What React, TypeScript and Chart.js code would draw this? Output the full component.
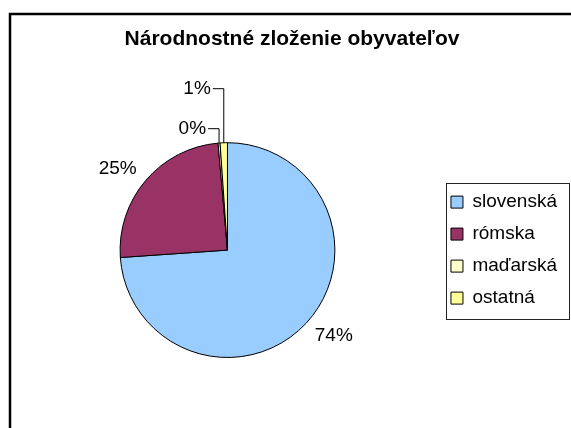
import React, { useEffect, useRef } from "react";
import { Chart, registerables } from "chart.js";

Chart.register(...registerables);

const chartTitle = "Národnostné zloženie obyvateľov";
const categories = ["slovenská", "rómska", "maďarská", "ostatná"];
const shares = [73.9, 24.7, 0.3, 1.1];
const sliceColors = ["#99CCFF", "#993366", "#FFFFCC", "#FFFF99"];

const FONT = "'Liberation Sans', Arial, sans-serif";
// leader-line lift above the rim for thin slices (px); 0 = plain outside label
const leaderLift = [0, 0, 14, 54];

const decorations = {
  id: "decorations",
  beforeDraw(chart: any) {
    const ctx = chart.ctx;
    ctx.save();
    ctx.strokeStyle = "#000";
    ctx.lineWidth = 2.5;
    ctx.beginPath();
    ctx.moveTo(10, 428);
    ctx.lineTo(10, 14);
    ctx.lineTo(571, 14);
    ctx.stroke();
    ctx.restore();
  },
  afterDatasetsDraw(chart: any) {
    const ctx = chart.ctx;
    const meta = chart.getDatasetMeta(0);
    const data = chart.data.datasets[0].data as number[];
    const total = data.reduce((a, b) => a + b, 0);
    ctx.save();
    ctx.font = `19px ${FONT}`;
    ctx.fillStyle = "#000";
    meta.data.forEach((arc: any, i: number) => {
      const { x, y, startAngle, endAngle, outerRadius } = arc.getProps(
        ["x", "y", "startAngle", "endAngle", "outerRadius"],
        true
      );
      const mid = (startAngle + endAngle) / 2;
      const text = Math.round((data[i] / total) * 100) + "%";
      const lift = leaderLift[i];
      if (lift > 0) {
        const px = x + Math.cos(mid) * outerRadius;
        const py = y + Math.sin(mid) * outerRadius;
        const ly = y - outerRadius - lift;
        ctx.strokeStyle = "#000";
        ctx.lineWidth = 1;
        ctx.beginPath();
        ctx.moveTo(px, py);
        ctx.lineTo(px, ly);
        ctx.lineTo(px - 11, ly);
        ctx.stroke();
        ctx.textAlign = "right";
        ctx.textBaseline = "middle";
        ctx.fillText(text, px - 13, ly);
      } else {
        const r = outerRadius + 12;
        const ax = x + Math.cos(mid) * r;
        const ay = y + Math.sin(mid) * r;
        ctx.textAlign = Math.cos(mid) >= 0 ? "left" : "right";
        ctx.textBaseline = "middle";
        ctx.fillText(text, ax, ay + (Math.sin(mid) >= 0 ? 4 : -4));
      }
    });
    ctx.restore();
  },
  afterDraw(chart: any) {
    const lg = chart.legend;
    if (!lg || !lg.legendHitBoxes || !lg.legendHitBoxes.length) return;
    const hb = lg.legendHitBoxes;
    const first = hb[0];
    const last = hb[hb.length - 1];
    const ctx = chart.ctx;
    ctx.save();
    ctx.strokeStyle = "#222";
    ctx.lineWidth = 1;
    const left = Math.round(first.left - 5) + 0.5;
    const top = Math.round(first.top - 10) + 0.5;
    const bottom = Math.round(last.top + last.height + 11) + 0.5;
    ctx.strokeRect(left, top, 569.5 - left, bottom - top);
    ctx.restore();
  },
};

export default function App() {
  const ref = useRef<HTMLCanvasElement | null>(null);
  useEffect(() => {
    if (!ref.current) return;
    const chart = new Chart(ref.current, {
      type: "pie",
      data: {
        labels: categories,
        datasets: [
          {
            data: shares,
            backgroundColor: sliceColors,
            borderColor: "#000",
            borderWidth: 1,
          },
        ],
      },
      options: {
        responsive: false,
        animation: false,
        layout: { padding: { left: 17, right: 4, top: 0, bottom: 70 } },
        plugins: {
          title: {
            display: true,
            text: chartTitle,
            color: "#000",
            font: { family: FONT, size: 21, weight: "bold" },
            padding: { top: 27, bottom: 90 },
          },
          legend: {
            position: "right",
            fullSize: false,
            labels: {
              color: "#000",
              font: { family: FONT, size: 19 },
              boxWidth: 12,
              boxHeight: 12,
              padding: 13,
            },
          },
          tooltip: { enabled: false },
        },
      },
      plugins: [decorations],
    });
    return () => chart.destroy();
  }, []);
  return (
    <div style={{ position: "absolute", left: 0, top: 0, width: 571, height: 428 }}>
      <canvas ref={ref} width={571} height={428} />
    </div>
  );
}
